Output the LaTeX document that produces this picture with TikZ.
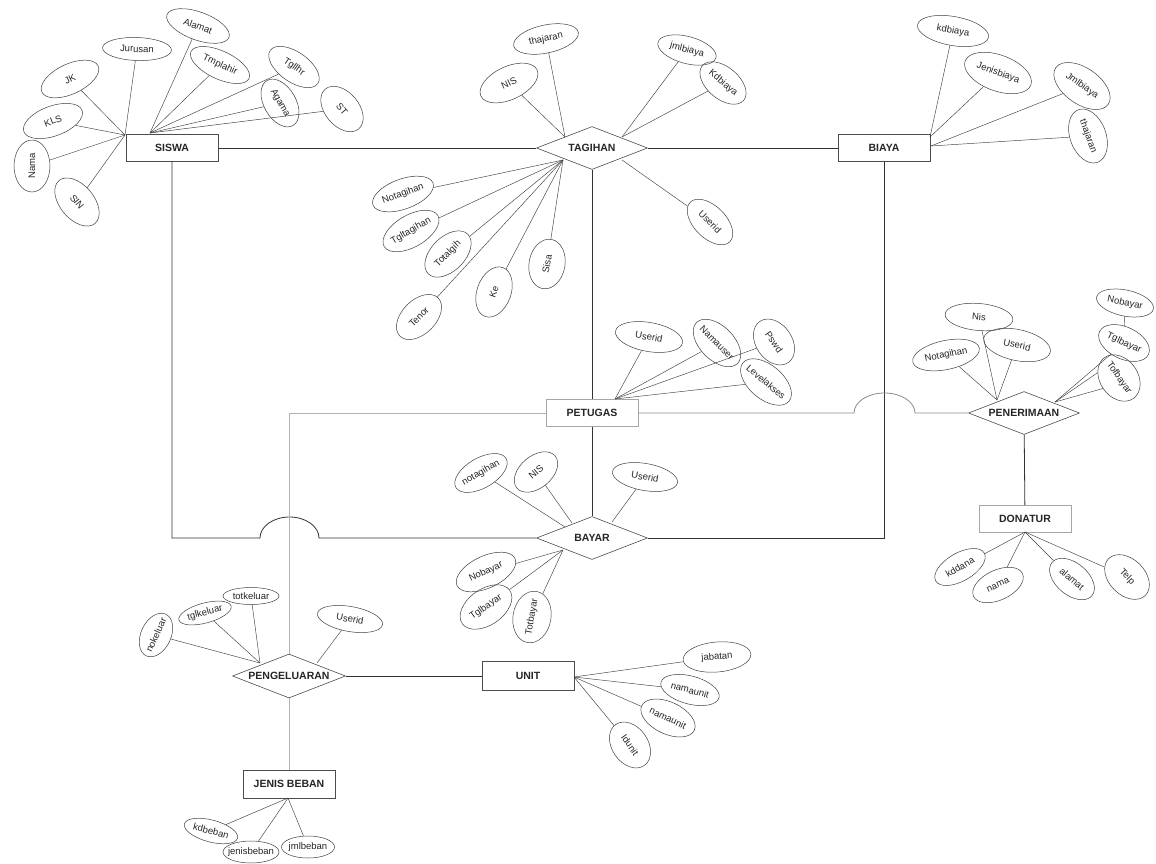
\documentclass[tikz,border=0pt]{standalone}
\usepackage{fontspec}
\setmainfont{Liberation Sans}
\usetikzlibrary{shapes.geometric}
\newcommand\enttxt[1]{\makebox[0pt]{#1}}
\newcommand\attxt[1]{\makebox[0pt]{#1}}
\tikzset{
  ent/.style={rectangle, draw=black!70, line width=0.6pt, fill=white, minimum width=92pt, minimum height=27pt, inner sep=0pt, text=black!85, font=\fontsize{10.5}{12}\selectfont\bfseries},
  gent/.style={ent, draw=black!35},
  rel/.style={diamond, draw=black!70, line width=0.6pt, fill=white, minimum width=111pt, minimum height=43pt, inner sep=0pt, text=black!85, font=\fontsize{10.5}{12}\selectfont\bfseries},
  attr/.style={ellipse, draw=black!75, line width=0.5pt, inner sep=0pt, text=black!85, font=\fontsize{9.5}{11}\selectfont},
  sz/.style n args={2}{minimum width=#1pt, minimum height=#2pt},
  link/.style={draw=black!75, line width=0.45pt},
  conn/.style={draw=black!80, line width=0.8pt},
  gconn/.style={draw=black!30, line width=0.8pt},
}
\begin{document}
\begin{tikzpicture}[x=1pt,y=1pt]
\useasboundingbox (0,0) rectangle (1156,-863);
\fill[white] (0,0) rectangle (1156,-863);

% ---------- entities / relations ----------
\node[ent] (siswa) at (172,-148) {\enttxt{SISWA}};
\node[rel] (tagihan) at (592,-148) {\enttxt{TAGIHAN}};
\node[ent] (biaya) at (884,-148) {\enttxt{BIAYA}};
\node[gent] (petugas) at (592,-413) {\enttxt{PETUGAS}};
\node[rel] (bayar) at (592,-538) {\enttxt{BAYAR}};
\node[rel] (penerimaan) at (1024,-413) {\enttxt{PENERIMAAN}};
\node[gent] (donatur) at (1025,-519) {\enttxt{DONATUR}};
\node[rel, minimum width=113pt, minimum height=44pt] (pengeluaran) at (289,-676) {\enttxt{PENGELUARAN}};
\node[ent, minimum height=29pt] (unit) at (528,-676) {\enttxt{UNIT}};
\node[ent, minimum height=28pt] (jenis) at (289,-784) {\enttxt{JENIS BEBAN}};

% ---------- main connectors ----------
\draw[conn] (siswa) -- (tagihan);
\draw[conn] (tagihan) -- (biaya);
\draw[conn] (tagihan) -- (petugas);
\draw[conn] (petugas) -- (bayar);
\draw[conn] (siswa.south) -- (172,-538) -- (260,-538)
  arc[start angle=180, end angle=0, x radius=29.5pt, y radius=21pt] -- (bayar.west);
\draw[conn] (bayar.east) -- (884,-538) -- (biaya.south);
\draw[gconn] (petugas.west) -- (289,-413) -- (pengeluaran.north);
\draw[draw=black!45, line width=0.8pt] (petugas.east) -- (854,-413)
  arc[start angle=180, end angle=0, x radius=30.5pt, y radius=20pt] -- (penerimaan.west);
\draw[conn] (penerimaan) -- (donatur);
\draw[conn] (pengeluaran) -- (unit);
\draw[gconn] (pengeluaran) -- (jenis);

% ---------- SISWA attributes ----------
\coordinate (sA) at (125,-135);
\coordinate (sB) at (150,-133);
\node[attr, sz={62}{30}, rotate=25] (sjk) at (70,-79) {\attxt{JK}};
\node[attr, sz={69}{23}, rotate=-2] (sjur) at (137,-49) {\attxt{Jurusan}};
\node[attr, sz={66}{28}, rotate=-20] (sala) at (198,-26) {\attxt{Alamat}};
\node[attr, sz={64}{28}, rotate=-25] (stmp) at (220,-65) {\attxt{Tmplahir}};
\node[attr, sz={58}{30}, rotate=-35] (stgl) at (294,-67) {\attxt{Tgllhr}};
\node[attr, sz={52}{32}, rotate=-60] (saga) at (280,-103) {\attxt{Agama}};
\node[attr, sz={52}{34}, rotate=-50] (sst) at (342,-109) {\attxt{ST}};
\node[attr, sz={62}{30}, rotate=20] (skls) at (53,-121) {\attxt{KLS}};
\node[attr, sz={52}{36}, rotate=90] (snama) at (32,-166) {\attxt{Nama}};
\node[attr, sz={56}{34}, rotate=-50] (ssin) at (77,-202) {\attxt{SIN}};
\foreach \n in {sjk,sjur,skls,snama,ssin} \draw[link] (\n) -- (sA);
\foreach \n in {sala,stmp,stgl,saga,sst} \draw[link] (\n) -- (sB);

% ---------- TAGIHAN attributes ----------
\coordinate (tU) at (565,-137);
\coordinate (tR) at (622,-137);
\coordinate (tL) at (563,-160);
\coordinate (tRB) at (622,-160);
\node[attr, sz={62}{33}, rotate=25] (tnis) at (509,-83) {\attxt{NIS}};
\node[attr, sz={66}{28}, rotate=12] (tthj) at (546,-39) {\attxt{thajaran}};
\node[attr, sz={60}{27}, rotate=-15] (tjml) at (687,-50) {\attxt{jmlbiaya}};
\node[attr, sz={54}{32}, rotate=-40] (tkdb) at (723,-83) {\attxt{Kdbiaya}};
\node[attr, sz={56}{32}, rotate=-45] (tusr) at (710,-222) {\attxt{Userid}};
\node[attr, sz={64}{30}, rotate=20] (tnot) at (403,-194) {\attxt{Notagihan}};
\node[attr, sz={62}{32}, rotate=30] (ttgl) at (411,-231) {\attxt{Tgltagihan}};
\node[attr, sz={56}{34}, rotate=45] (ttot) at (448,-254) {\attxt{Totalgih}};
\node[attr, sz={54}{34}, rotate=45] (tten) at (419,-317) {\attxt{Tenor}};
\node[attr, sz={52}{34}, rotate=70] (tke) at (494,-292) {\attxt{Ke}};
\node[attr, sz={50}{36}, rotate=80] (tsis) at (547,-264) {\attxt{Sisa}};
\foreach \n in {tnis,tthj} \draw[link] (\n) -- (tU);
\foreach \n in {tjml,tkdb} \draw[link] (\n) -- (tR);
\draw[link] (tusr) -- (tRB);
\foreach \n in {tnot,ttgl,ttot,tten,tke,tsis} \draw[link] (\n) -- (tL);

% ---------- BIAYA attributes ----------
\coordinate (bA) at (930,-137);
\coordinate (bB) at (931,-146);
\node[attr, sz={72}{29}, rotate=-10] (bkd) at (953,-31) {\attxt{kdbiaya}};
\node[attr, sz={70}{36}, rotate=-20] (bjen) at (998,-73) {\attxt{Jenisbiaya}};
\node[attr, sz={64}{36}, rotate=-35] (bjml) at (1082,-86) {\attxt{Jmlbiaya}};
\node[attr, sz={56}{36}, rotate=-70] (bthj) at (1088,-136) {\attxt{thajaran}};
\foreach \n in {bkd,bjen} \draw[link] (\n) -- (bA);
\foreach \n in {bjml,bthj} \draw[link] (\n) -- (bB);

% ---------- PETUGAS attributes ----------
\coordinate (pC) at (615,-399);
\node[attr, sz={68}{29}, rotate=-10] (pusr) at (649,-337) {\attxt{Userid}};
\node[attr, sz={58}{34}, rotate=-45] (pnam) at (717,-343) {\attxt{Namauser}};
\node[attr, sz={50}{36}, rotate=-55] (ppsw) at (774,-342) {\attxt{Pswd}};
\node[attr, sz={60}{34}, rotate=-40] (plev) at (766,-382) {\attxt{Levelakses}};
\foreach \n in {pusr,pnam,ppsw,plev} \draw[link] (\n) -- (pC);

% ---------- BAYAR attributes ----------
\coordinate (yA) at (565,-527);
\coordinate (yB) at (572,-523);
\coordinate (yC) at (612,-522);
\coordinate (yL) at (563,-550);
\node[attr, sz={58}{30}, rotate=30] (ynot) at (481,-473) {\attxt{notagihan}};
\node[attr, sz={50}{32}, rotate=40] (ynis) at (536,-472) {\attxt{NIS}};
\node[attr, sz={66}{27}, rotate=-10] (yusr) at (645,-477) {\attxt{Userid}};
\node[attr, sz={64}{32}, rotate=25] (ynob) at (486,-572) {\attxt{Nobayar}};
\node[attr, sz={58}{36}, rotate=35] (ytgl) at (486,-607) {\attxt{Tglbayar}};
\node[attr, sz={52}{38}, rotate=80] (ytot) at (532,-617) {\attxt{Totbayar}};
\draw[link] (ynot) -- (yA);
\draw[link] (ynis) -- (yB);
\draw[link] (yusr) -- (yC);
\foreach \n in {ynob,ytgl,ytot} \draw[link] (\n) -- (yL);

% ---------- PENERIMAAN attributes ----------
\coordinate (nL) at (997,-400);
\coordinate (nR) at (1055,-402);
\node[attr, sz={68}{29}, rotate=12] (nnot) at (946,-355) {\attxt{Notagihan}};
\node[attr, sz={68}{27}, rotate=-5] (nnis) at (979,-317) {\attxt{Nis}};
\node[attr, sz={68}{31}, rotate=-12] (nusr) at (1017,-345) {\attxt{Userid}};
\node[attr, sz={58}{26}, rotate=-12] (nnob) at (1125,-303) {\attxt{Nobayar}};
\node[attr, sz={54}{32}, rotate=-25] (ntgl) at (1124,-343) {\attxt{Tglbayar}};
\node[attr, sz={50}{38}, rotate=-55] (ntof) at (1119,-378) {\attxt{Tofbayar}};
\foreach \n in {nnot,nnis,nusr} \draw[link] (\n) -- (nL);
\draw[link] (nnob) -- (ntgl);
\draw[link] (ntgl) -- (nR);
\draw[link] (ntof.221) -- (nR);
\draw[link] (ntof.268) -- (nR);

% ---------- DONATUR attributes ----------
\coordinate (dC) at (1025,-532);
\node[attr, sz={56}{28}, rotate=30] (dkd) at (960,-567) {\attxt{kddana}};
\node[attr, sz={54}{30}, rotate=25] (dnam) at (998,-585) {\attxt{nama}};
\node[attr, sz={52}{32}, rotate=-40] (dala) at (1072,-579) {\attxt{alamat}};
\node[attr, sz={52}{36}, rotate=-45] (dtel) at (1127,-577) {\attxt{Telp}};
\foreach \n in {dkd,dnam,dala,dtel} \draw[link] (\n) -- (dC);

% ---------- PENGELUARAN attributes ----------
\coordinate (gC) at (260,-663);
\coordinate (gR) at (317,-663);
\node[attr, sz={46}{30}, rotate=65] (gnok) at (156,-635) {\attxt{nokeluar}};
\node[attr, sz={54}{20}, rotate=15] (gtgl) at (205,-613) {\attxt{tglkeluar}};
\node[attr, sz={56}{17}, rotate=0] (gtot) at (251,-596) {\attxt{totkeluar}};
\node[attr, sz={66}{25}, rotate=-10] (gusr) at (350,-619) {\attxt{Userid}};
\foreach \n in {gnok,gtgl,gtot} \draw[link] (\n) -- (gC);
\draw[link] (gusr) -- (gR);

% ---------- JENIS BEBAN attributes ----------
\coordinate (jC) at (288,-798);
\node[attr, sz={55}{22}, rotate=-15] (jkd) at (211,-831) {\attxt{kdbeban}};
\node[attr, sz={56}{22}, rotate=0] (jjen) at (251,-852) {\attxt{jenisbeban}};
\node[attr, sz={53}{22}, rotate=0] (jjml) at (308,-847) {\attxt{jmlbeban}};
\foreach \n in {jkd,jjen,jjml} \draw[link] (\n) -- (jC);

% ---------- UNIT attributes ----------
\coordinate (uC) at (574,-677);
\node[attr, sz={68}{30}, rotate=5] (ujab) at (717,-657) {\attxt{jabatan}};
\node[attr, sz={60}{28}, rotate=-15] (unm1) at (690,-690) {\attxt{namaunit}};
\node[attr, sz={58}{32}, rotate=-25] (unm2) at (668,-718) {\attxt{namaunit}};
\node[attr, sz={50}{36}, rotate=-55] (uid) at (630,-745) {\attxt{Idunit}};
\foreach \n in {ujab,unm1,unm2,uid} \draw[link] (\n) -- (uC);
\end{tikzpicture}
\end{document}
